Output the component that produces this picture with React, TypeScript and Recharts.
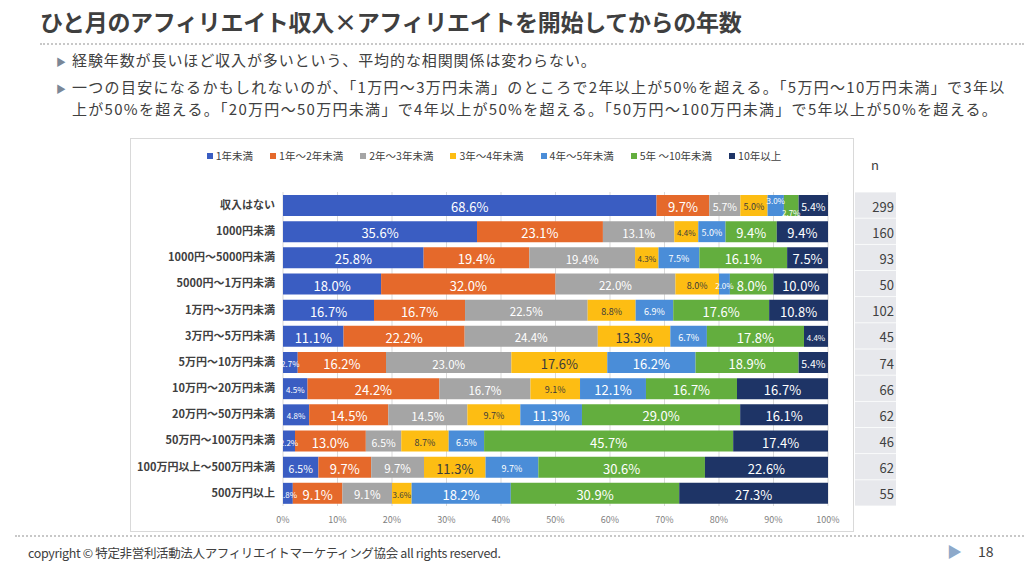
import { Bar, BarChart, CartesianGrid, LabelList, Legend, XAxis, YAxis } from "recharts";

const categories = [
  "収入はない",
  "1000円未満",
  "1000円～5000円未満",
  "5000円～1万円未満",
  "1万円～3万円未満",
  "3万円～5万円未満",
  "5万円～10万円未満",
  "10万円～20万円未満",
  "20万円～50万円未満",
  "50万円～100万円未満",
  "100万円以上～500万円未満",
  "500万円以上",
];
const under1 = [68.6, 35.6, 25.8, 18.0, 16.7, 11.1, 2.7, 4.5, 4.8, 2.2, 6.5, 1.8];
const y1to2 = [9.7, 23.1, 19.4, 32.0, 16.7, 22.2, 16.2, 24.2, 14.5, 13.0, 9.7, 9.1];
const y2to3 = [5.7, 13.1, 19.4, 22.0, 22.5, 24.4, 23.0, 16.7, 14.5, 6.5, 9.7, 9.1];
const y3to4 = [5.0, 4.4, 4.3, 8.0, 8.8, 13.3, 17.6, 9.1, 9.7, 8.7, 11.3, 3.6];
const y4to5 = [3.0, 5.0, 7.5, 2.0, 6.9, 6.7, 16.2, 12.1, 11.3, 6.5, 9.7, 18.2];
const y5to10 = [2.7, 9.4, 16.1, 8.0, 17.6, 17.8, 18.9, 16.7, 29.0, 45.7, 30.6, 30.9];
const over10 = [5.4, 9.4, 7.5, 10.0, 10.8, 4.4, 5.4, 16.7, 16.1, 17.4, 22.6, 27.3];
const respondents = [299, 160, 93, 50, 102, 45, 74, 66, 62, 46, 62, 55];

const seriesNames = ["1年未満", "1年～2年未満", "2年～3年未満", "3年～4年未満", "4年～5年未満", "5年 ～10年未満", "10年以上"];
const seriesColors = ["#3A5DC2", "#E5692B", "#A5A5A5", "#FDBD13", "#4A8DD8", "#63AE3E", "#1E3466"];
const xTicks = [0, 0.1, 0.2, 0.3, 0.4, 0.5, 0.6, 0.7, 0.8, 0.9, 1];

const seriesValues = [under1, y1to2, y2to3, y3to4, y4to5, y5to10, over10];
const rows = categories.map((name, i) => {
  const row: Record<string, string | number> = { name };
  seriesValues.forEach((vals, s) => {
    row["s" + s] = vals[i];
  });
  return row;
});

const FONT = '"Noto Sans CJK JP", "Noto Sans", sans-serif';
const N_X = 725;

const makeLabel = (s: number) => (props: any) => {
  const { x, y, width, height, value, index } = props;
  const v = Number(value);
  let size = 13;
  if (v < 5) size = 8;
  else if (v < 10 && (s === 3 || s === 4)) size = 9;
  else if (v < 7) size = 10.5;
  else if (s === 2) size = 11.5;
  // tiny neighbouring slices in the first row are staggered like the original
  let dy = 1;
  if (index === 0 && s === 4) dy = -5;
  if (index === 0 && s === 5) dy = 7;
  return (
    <text
      x={x + width / 2}
      y={y + height / 2 + dy}
      textAnchor="middle"
      dominantBaseline="central"
      fontSize={size}
      fill={s === 3 ? "#3b3b3b" : "#ffffff"}
      fontFamily={FONT}
    >
      {v.toFixed(1)}%
    </text>
  );
};

const NTick = (props: any) => {
  const { y, payload } = props;
  const idx = categories.indexOf(payload.value);
  return (
    <g>
      <rect x={N_X} y={y - 12.7} width={41} height={25.4} fill="#E7E8EC" />
      <text x={N_X + 39} y={y + 1} textAnchor="end" dominantBaseline="central" fontSize={13} fill="#404040" fontFamily={FONT}>
        {respondents[idx]}
      </text>
    </g>
  );
};

const LegendBox = () => (
  <div style={{ display: "flex", justifyContent: "center", gap: 17, fontSize: 10.5, fontFamily: FONT, color: "#404040" }}>
    {seriesNames.map((name, s) => (
      <div key={name} style={{ display: "flex", alignItems: "center", gap: 3 }}>
        <span style={{ width: 6, height: 6, background: seriesColors[s], display: "inline-block" }} />
        <span>{name}</span>
      </div>
    ))}
  </div>
);

const Bullet = ({ top }: { top: number }) => (
  <div style={{ position: "absolute", left: 56, top, fontSize: 10, color: "#7A8797" }}>▶</div>
);

export default function App() {
  return (
    <div
      style={{
        position: "absolute",
        left: 0,
        top: 0,
        width: 1024,
        height: 576,
        background: "#fff",
        fontFamily: FONT,
        color: "#404040",
        overflow: "hidden",
      }}
    >
      <div style={{ position: "absolute", left: 40, top: 4, fontSize: 23, fontWeight: 700, letterSpacing: -0.3, color: "#3f3f3f" }}>
        ひと月のアフィリエイト収入×アフィリエイトを開始してからの年数
      </div>
      <div style={{ position: "absolute", left: 40, top: 43, width: 984, borderTop: "2px dotted #C8C8C8" }} />
      <Bullet top={54} />
      <div style={{ position: "absolute", left: 72, top: 49, fontSize: 15, lineHeight: "22px", letterSpacing: 0.9 }}>
        経験年数が長いほど収入が多いという、平均的な相関関係は変わらない。
      </div>
      <Bullet top={81} />
      <div style={{ position: "absolute", left: 72, top: 76, fontSize: 15, lineHeight: "22px", whiteSpace: "nowrap", letterSpacing: 1.3 }}>
        一つの目安になるかもしれないのが、「1万円～3万円未満」のところで2年以上が50%を超える。「5万円～10万円未満」で3年以
        <br />
        上が50%を超える。「20万円～50万円未満」で4年以上が50%を超える。「50万円～100万円未満」で5年以上が50%を超える。
      </div>

      <div style={{ position: "absolute", left: 130, top: 138, width: 722, height: 392, border: "1px solid #D9D9D9" }} />
      <div style={{ position: "absolute", left: 871, top: 155, fontSize: 13 }}>n</div>

      <div style={{ position: "absolute", left: 130, top: 138 }}>
        <BarChart
          width={770}
          height={392}
          data={rows}
          layout="vertical"
          stackOffset="expand"
          barSize={21}
          margin={{ top: 39, right: 0, bottom: 0, left: 0 }}
        >
          <CartesianGrid horizontal={false} stroke="#D9D9D9" />
          <XAxis
            type="number"
            domain={[0, 1]}
            ticks={xTicks}
            tickFormatter={(v: number) => `${Math.round(v * 100)}%`}
            axisLine={false}
            tickLine={false}
            height={24}
            tick={{ fontSize: 9, fill: "#7F7F7F", fontFamily: FONT, dy: 3 }}
          />
          <YAxis
            yAxisId="cat"
            type="category"
            dataKey="name"
            width={153}
            axisLine={false}
            tickLine={false}
            interval={0}
            tick={{ fontSize: 11, fill: "#404040", fontWeight: 700, fontFamily: FONT }}
          />
          <YAxis
            yAxisId="n"
            type="category"
            dataKey="name"
            orientation="right"
            width={72}
            axisLine={false}
            tickLine={false}
            interval={0}
            tick={<NTick />}
          />
          <Legend
            verticalAlign="top"
            content={<LegendBox />}
            wrapperStyle={{ top: 10, left: 0, width: 728 }}
          />
          {seriesNames.map((name, s) => (
            <Bar
              key={name}
              yAxisId="cat"
              dataKey={"s" + s}
              name={name}
              stackId="a"
              fill={seriesColors[s]}
              isAnimationActive={false}
            >
              <LabelList dataKey={"s" + s} content={makeLabel(s)} />
            </Bar>
          ))}
        </BarChart>
      </div>

      <div style={{ position: "absolute", left: 15, top: 535, width: 1009, borderTop: "2px dotted #C8C8C8" }} />
      <div style={{ position: "absolute", left: 28, top: 543, fontSize: 12.5, letterSpacing: -0.35 }}>
        copyright © 特定非営利活動法人アフィリエイトマーケティング協会 all rights reserved.
      </div>
      <div style={{ position: "absolute", left: 947, top: 540, fontSize: 15, color: "#8DA9CA" }}>▶</div>
      <div style={{ position: "absolute", left: 978, top: 541, fontSize: 14 }}>18</div>
    </div>
  );
}
